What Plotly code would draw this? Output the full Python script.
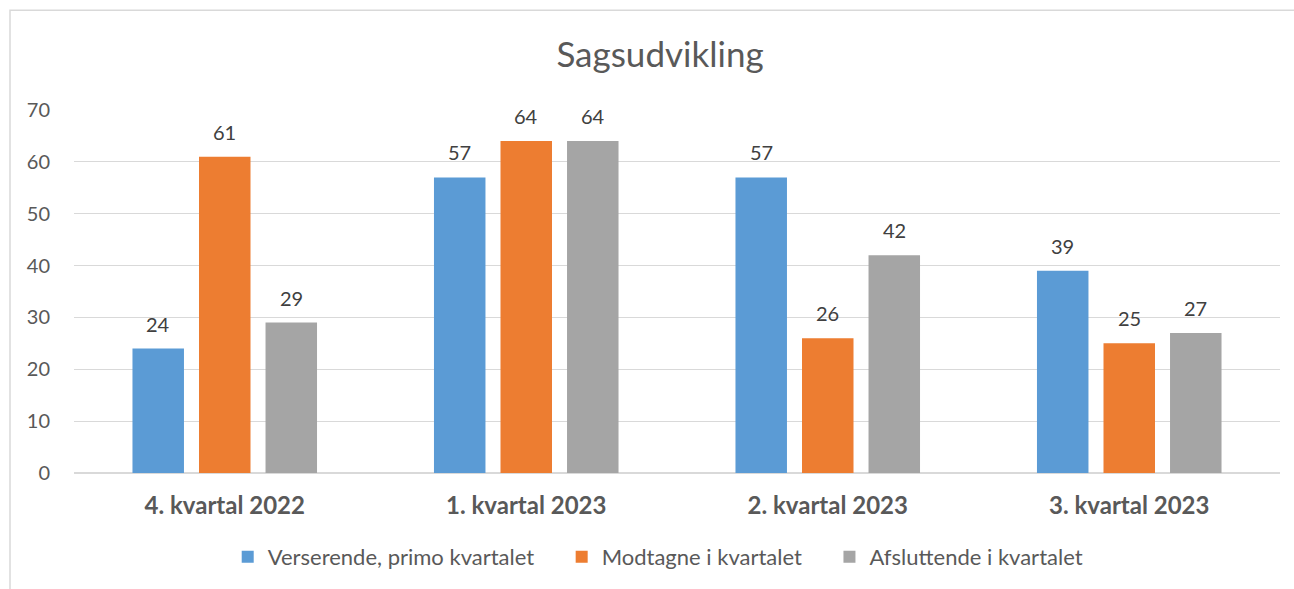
import plotly.graph_objects as go

categories = ["4. kvartal 2022", "1. kvartal 2023", "2. kvartal 2023", "3. kvartal 2023"]
verserende = [24, 57, 57, 39]
modtagne = [61, 64, 26, 25]
afsluttende = [29, 64, 42, 27]
series_names = ["Verserende, primo kvartalet", "Modtagne i kvartalet", "Afsluttende i kvartalet"]
colors = ["#5B9BD5", "#ED7D31", "#A5A5A5"]

FONT = "Lato, 'Open Sans', sans-serif"
GRAY = "#595959"
x_labels = [f"<b>{c}</b>" for c in categories]

BARGAP = 0.338
PLOT_W = 1294 - 74 - 14
slot = PLOT_W / len(categories) * (1 - BARGAP) / 3
PAD = "\u00a0" * 4

fig = go.Figure()
for i, (name, vals, col) in enumerate(zip(series_names, [verserende, modtagne, afsluttende], colors)):
    fig.add_trace(go.Bar(
        x=x_labels, y=vals, name=name + (PAD if i < 2 else ""),
        marker=dict(color=col, line=dict(width=0)),
    ))
    for xl, v in zip(x_labels, vals):
        fig.add_annotation(x=xl, y=v, text=str(v), showarrow=False,
                           xshift=(i - 1) * slot, yshift=25, yanchor="middle",
                           font=dict(size=20, color="#404040", family=FONT))

fig.update_layout(
    width=1294, height=589,
    margin=dict(l=74, r=14, t=110, b=115),
    paper_bgcolor="white", plot_bgcolor="white",
    barmode="group", bargap=BARGAP, bargroupgap=0.226,
    font=dict(family=FONT, color=GRAY, size=20),
    title=dict(text="Sagsudvikling", x=660 / 1294, xref="container", xanchor="center",
               y=1 - 55 / 589, yanchor="middle",
               font=dict(size=35, color=GRAY, family=FONT)),
    xaxis=dict(showline=False, ticks="", ticklabelstandoff=16,
               tickfont=dict(size=24, color=GRAY)),
    yaxis=dict(range=[0, 70], dtick=10, showgrid=True, gridcolor="#D9D9D9", gridwidth=1,
               zeroline=True, zerolinecolor="#D9D9D9", zerolinewidth=2,
               ticks="", ticklabelstandoff=23, tickfont=dict(size=20, color=GRAY)),
    legend=dict(orientation="h", x=0.484, xanchor="center", y=(474 - 557) / 364, yanchor="middle",
                font=dict(size=22, color=GRAY), itemwidth=30, traceorder="normal"),
    showlegend=True,
)
fig.add_shape(type="rect", xref="paper", yref="paper",
              x0=(10 - 74) / PLOT_W, x1=1.2, y0=-0.5, y1=(474 - 10) / 364,
              line=dict(color="#D9D9D9", width=1.5), fillcolor="rgba(0,0,0,0)", layer="below")
fig.write_html("out.html")
